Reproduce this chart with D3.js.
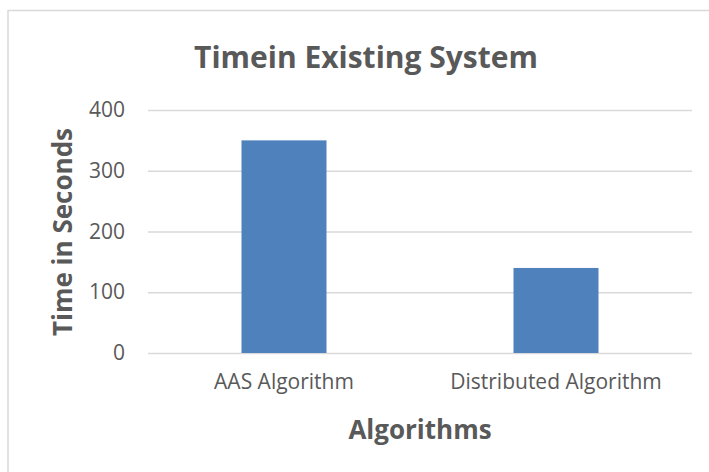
<!DOCTYPE html>
<html>
<head>
<meta charset="utf-8">
<script src="https://cdn.jsdelivr.net/npm/d3@7"></script>
<style>
  html, body { margin: 0; padding: 0; background: #ffffff; }
  svg { display: block; }
</style>
</head>
<body>
<svg id="chart" width="709" height="472"></svg>
<script>
// Chart data
const categories = ["AAS Algorithm", "Distributed Algorithm"];
const values = [350, 140];
const yTicks = [0, 100, 200, 300, 400];
const titleText = "Timein Existing System";
const xTitle = "Algorithms";
const yTitle = "Time in Seconds";

const svg = d3.select("#chart");
const font = "'Open Sans', 'Noto Sans', sans-serif";
const textColor = "#595959";

// Outer chart frame (runs past the right and bottom edges)
svg.append("rect")
  .attr("x", 8).attr("y", 10.5)
  .attr("width", 720).attr("height", 480)
  .attr("fill", "#ffffff")
  .attr("stroke", "#d9d9d9").attr("stroke-width", 1.5);

const plot = { left: 148, right: 692, top: 110, bottom: 353 };

const x = d3.scaleBand()
  .domain(categories)
  .range([plot.left, plot.right])
  .paddingInner(0.6875)
  .paddingOuter(0.34375);

const y = d3.scaleLinear()
  .domain([0, 400])
  .range([plot.bottom, plot.top]);

// Gridlines and y tick labels
const yAxis = d3.axisLeft(y)
  .tickValues(yTicks)
  .tickSize(-(plot.right - plot.left))
  .tickPadding(23);

const gy = svg.append("g")
  .attr("transform", `translate(${plot.left},0)`)
  .call(yAxis);
gy.select(".domain").remove();
gy.selectAll(".tick line").attr("stroke", "#d9d9d9").attr("stroke-width", 1.3);
gy.selectAll(".tick text")
  .attr("fill", textColor)
  .style("font-family", font)
  .style("font-size", "21px");

// Bars
svg.append("g").selectAll("rect")
  .data(categories)
  .join("rect")
  .attr("x", d => x(d))
  .attr("width", x.bandwidth())
  .attr("y", (d, i) => y(values[i]))
  .attr("height", (d, i) => y(0) - y(values[i]))
  .attr("fill", "#4f81bd");

// Category labels
const xAxis = d3.axisBottom(x).tickSize(0).tickPadding(21);
const gx = svg.append("g")
  .attr("transform", `translate(0,${plot.bottom})`)
  .call(xAxis);
gx.select(".domain").remove();
gx.selectAll(".tick text")
  .attr("fill", textColor)
  .style("font-family", font)
  .style("font-size", "21px");

// Titles
svg.append("text")
  .attr("x", 366).attr("y", 68)
  .attr("text-anchor", "middle")
  .attr("fill", textColor)
  .style("font-family", font)
  .style("font-weight", "bold")
  .style("font-size", "30px")
  .text(titleText);

svg.append("text")
  .attr("x", 420).attr("y", 439)
  .attr("text-anchor", "middle")
  .attr("fill", textColor)
  .style("font-family", font)
  .style("font-weight", "bold")
  .style("font-size", "26px")
  .text(xTitle);

svg.append("text")
  .attr("transform", "translate(72,232) rotate(-90)")
  .attr("text-anchor", "middle")
  .attr("fill", textColor)
  .style("font-family", font)
  .style("font-weight", "bold")
  .style("font-size", "26px")
  .text(yTitle);
</script>
</body>
</html>
